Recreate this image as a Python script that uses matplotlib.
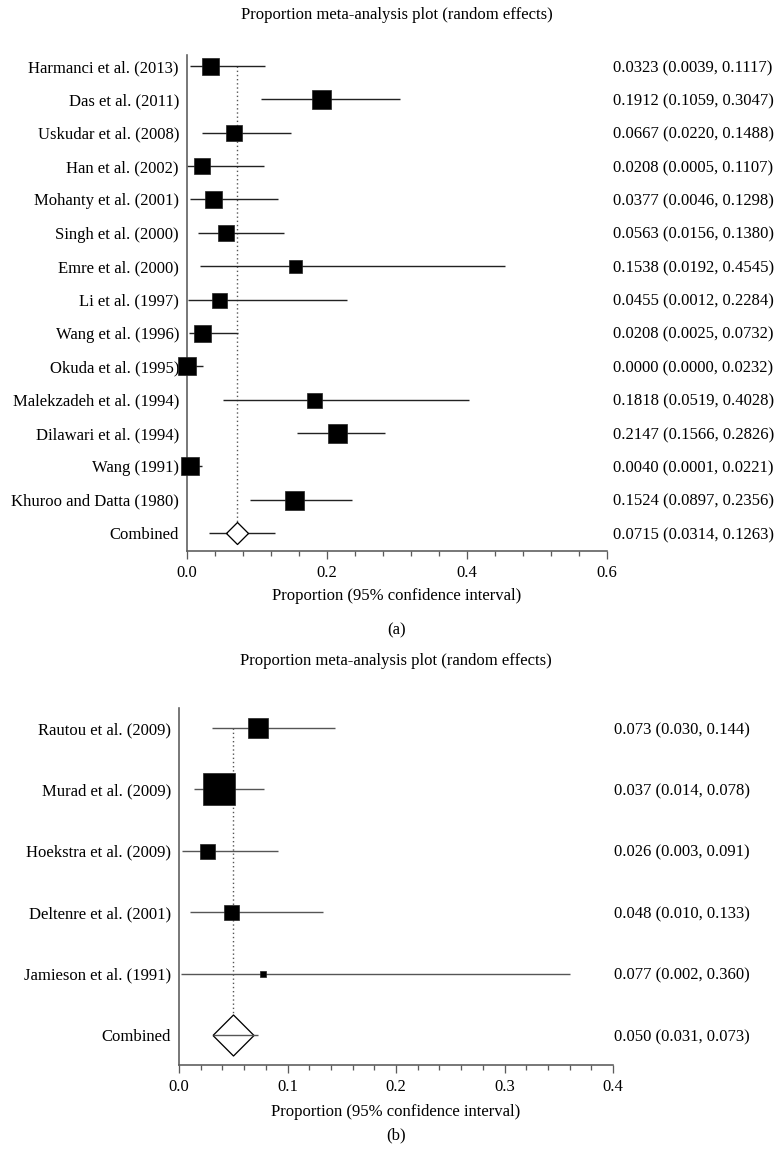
import matplotlib
matplotlib.use('Agg')
import matplotlib.pyplot as plt
from matplotlib.transforms import blended_transform_factory
from matplotlib.ticker import MultipleLocator, FormatStrFormatter

plt.rcParams['font.family'] = ['Liberation Serif', 'DejaVu Serif']

# ---------------- data: panel (a) ----------------
studies_a = ["Harmanci et al. (2013)", "Das et al. (2011)", "Uskudar et al. (2008)",
             "Han et al. (2002)", "Mohanty et al. (2001)", "Singh et al. (2000)",
             "Emre et al. (2000)", "Li et al. (1997)", "Wang et al. (1996)",
             "Okuda et al. (1995)", "Malekzadeh et al. (1994)", "Dilawari et al. (1994)",
             "Wang (1991)", "Khuroo and Datta (1980)"]
est_a = [0.0323, 0.1912, 0.0667, 0.0208, 0.0377, 0.0563, 0.1538, 0.0455, 0.0208,
         0.0000, 0.1818, 0.2147, 0.0040, 0.1524]
lo_a = [0.0039, 0.1059, 0.0220, 0.0005, 0.0046, 0.0156, 0.0192, 0.0012, 0.0025,
        0.0000, 0.0519, 0.1566, 0.0001, 0.0897]
hi_a = [0.1117, 0.3047, 0.1488, 0.1107, 0.1298, 0.1380, 0.4545, 0.2284, 0.0732,
        0.0232, 0.4028, 0.2826, 0.0221, 0.2356]
comb_a = [0.0715, 0.0314, 0.1263]
box_px_a = [17, 19, 16, 16, 17, 16, 13, 15, 17, 18, 15, 19, 18, 19]

# ---------------- data: panel (b) ----------------
studies_b = ["Rautou et al. (2009)", "Murad et al. (2009)", "Hoekstra et al. (2009)",
             "Deltenre et al. (2001)", "Jamieson et al. (1991)"]
est_b = [0.073, 0.037, 0.026, 0.048, 0.077]
lo_b = [0.030, 0.014, 0.003, 0.010, 0.002]
hi_b = [0.144, 0.078, 0.091, 0.133, 0.360]
comb_b = [0.050, 0.031, 0.073]
box_px_b = [20, 32, 15, 15, 6.5]

TITLE = "Proportion meta-analysis plot (random effects)"
XLABEL = "Proportion (95% confidence interval)"

W, H = 776, 1162
DPI = 100
fig = plt.figure(figsize=(W / DPI, H / DPI), dpi=DPI)


def pt(px):
    return px * 72.0 / DPI


def fx(px):
    return px / W


def fy(py):
    return 1 - py / H


FS = 12
SPINE = '#5a5a5a'


def panel(rect_px, labels, est, lo, hi, comb, sizes, xmax, major, minor, ndec,
          row_top, row_bot, diamond_px, line_over, line_col, title_y, xlabel_y,
          tag, tag_y, text_x):
    left, top, right, bottom = rect_px
    ax = fig.add_axes([fx(left), fy(bottom), fx(right - left), (bottom - top) / H])
    n = len(labels)
    step = (row_bot - row_top) / n
    ax.set_ylim(n + (bottom - row_bot) / step, (top - row_top) / step)
    ax.set_xlim(0, xmax)

    # reference dotted line
    ax.plot([comb[0], comb[0]], [0, n], linestyle=(0, (1, 2)), color='#555555',
            lw=1.0, zorder=1)
    for i in range(n):
        ax.plot([lo[i], hi[i]], [i, i], color=line_col, lw=pt(1.4), zorder=2,
                solid_capstyle='butt')
        ax.plot(est[i], i, marker='s', ms=pt(sizes[i]), color='black',
                markeredgecolor='#222222', markeredgewidth=0.5, zorder=3,
                clip_on=False)
    # combined
    ax.plot([comb[1], comb[2]], [n, n], color=line_col, lw=pt(1.4),
            zorder=5 if line_over else 2, solid_capstyle='butt')
    ax.plot(comb[0], n, marker=[(-1, 0), (0, 1), (1, 0), (0, -1), (-1, 0)],
            ms=pt(diamond_px), markerfacecolor='white', markeredgecolor='black',
            markeredgewidth=pt(1.3), zorder=4)

    ax.set_yticks(range(n + 1))
    ax.set_yticklabels(labels + ["Combined"], fontsize=FS)
    ax.tick_params(axis='y', length=0, pad=pt(8))

    ax.xaxis.set_major_locator(MultipleLocator(major))
    ax.xaxis.set_minor_locator(MultipleLocator(minor))
    ax.xaxis.set_major_formatter(FormatStrFormatter('%.1f'))
    ax.tick_params(axis='x', which='major', length=pt(8), width=pt(1.3),
                   color=SPINE, labelsize=FS, pad=pt(6))
    ax.tick_params(axis='x', which='minor', length=pt(4.5), width=pt(1.3),
                   color=SPINE)
    for s in ['top', 'right']:
        ax.spines[s].set_visible(False)
    for s in ['left', 'bottom']:
        ax.spines[s].set_color(SPINE)
        ax.spines[s].set_linewidth(pt(1.6))
    ax.patch.set_visible(False)

    # right-hand estimate text
    tr = blended_transform_factory(fig.transFigure, ax.transData)
    fmt = "{:.%df} ({:.%df}, {:.%df})" % (ndec, ndec, ndec)
    vals = list(zip(est, lo, hi)) + [tuple(comb)]
    for i, (e, l, h) in enumerate(vals):
        ax.text(fx(text_x), i, fmt.format(e, l, h), transform=tr, fontsize=FS,
                va='center_baseline', ha='left', clip_on=False)

    cx = fx((left + right) / 2)
    fig.text(cx, fy(title_y), TITLE, ha='center', va='center', fontsize=FS)
    fig.text(cx, fy(xlabel_y), XLABEL, ha='center', va='center', fontsize=FS)
    fig.text(cx, fy(tag_y), tag, ha='center', va='center', fontsize=FS)
    return ax


panel((187, 55, 607, 551), studies_a, est_a, lo_a, hi_a, comb_a, box_px_a,
      0.6, 0.2, 0.04, 4, 66, 533, 22, False, '#222222', 15, 596, "(a)", 630, 613)

panel((179, 708, 613, 1065), studies_b, est_b, lo_b, hi_b, comb_b, box_px_b,
      0.4, 0.1, 0.02, 3, 728, 1035, 41, True, '#555555', 661, 1112, "(b)", 1135, 614)

fig.savefig('out.png', dpi=DPI)
